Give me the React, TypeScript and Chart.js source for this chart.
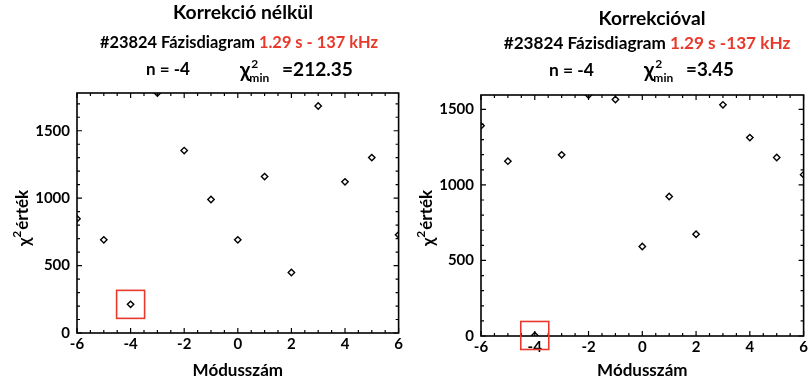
import React, { useEffect, useRef } from "react";
import { Chart, registerables } from "chart.js";

Chart.register(...registerables);

// ---- Data ----
const modes = [-6, -5, -4, -3, -2, -1, 0, 1, 2, 3, 4, 5, 6];
const chiUncorrected = [847, 691, 212.35, 1780, 1353, 990, 691, 1160, 449, 1684, 1121, 1301, 728];
const chiCorrected = [1391, 1157, 3.45, 1199, 1595, 1565, 592, 923, 673, 1530, 1313, 1181, 1068];
const bestMode = -4;
const xTickValues = [-6, -4, -2, 0, 2, 4, 6];
const yTickValues = [0, 500, 1000, 1500];
const yMaxUncorrected = 1780;
const yMaxCorrected = 1595;
const xMajorStep = 2;
const xMinorStep = 0.5;
const yMajorStep = 500;
const yMinorStep = 100;

const titleUncorrected = "Korrekció nélkül";
const titleCorrected = "Korrekcióval";
const shotLabel = "#23824 Fázisdiagram ";
const timeLabelUncorrected = "1.29 s - 137 kHz";
const timeLabelCorrected = "1.29 s -137 kHz";
const nLabel = "n = -4";
const chiMinUncorrected = "=212.35";
const chiMinCorrected = "=3.45";
const xTitle = "Módusszám";
const yTitleChi = "χ";
const yTitleRest = "érték";

const FONT = "Lato, 'Open Sans', sans-serif";
const RED = "#e8392c";

type Panel = {
  width: number;
  padTop: number;
  padRight: number;
  xAxisHeight: number;
  title: string;
  titleX: number;
  titleY: number;
  titleW: number;
  subX: number;
  subW: number;
  timeLabel: string;
  nX: number;
  nW: number;
  chiX: number;
  eqText: string;
  eqX: number;
  eqW: number;
  values: number[];
  yMax: number;
};

function fitSize(ctx: CanvasRenderingContext2D, text: string, target: number) {
  ctx.font = `bold 100px ${FONT}`;
  const w = ctx.measureText(text).width;
  return (100 * target) / w;
}

function drawHeader(ctx: CanvasRenderingContext2D, p: Panel) {
  ctx.save();
  ctx.textBaseline = "middle";
  ctx.fillStyle = "#000";
  // title
  const ts = fitSize(ctx, p.title, p.titleW);
  ctx.font = `bold ${ts}px ${FONT}`;
  ctx.textAlign = "center";
  ctx.fillText(p.title, p.titleX, p.titleY);
  // subtitle
  const ss = fitSize(ctx, shotLabel + p.timeLabel, p.subW);
  ctx.font = `bold ${ss}px ${FONT}`;
  ctx.textAlign = "left";
  const w1 = ctx.measureText(shotLabel).width;
  const w2 = ctx.measureText(p.timeLabel).width;
  const sx = p.subX - (w1 + w2) / 2;
  ctx.fillText(shotLabel, sx, 43);
  ctx.fillStyle = RED;
  ctx.fillText(p.timeLabel, sx + w1, 43);
  // stats line
  ctx.fillStyle = "#000";
  const statY = 70;
  const ns = fitSize(ctx, nLabel, p.nW);
  ctx.font = `bold ${ns}px ${FONT}`;
  ctx.fillText(nLabel, p.nX, statY);
  ctx.font = `bold 21px ${FONT}`;
  ctx.fillText("χ", p.chiX, statY);
  const wc = ctx.measureText("χ").width;
  ctx.font = `bold 12px ${FONT}`;
  ctx.fillText("2", p.chiX + wc + 1, statY - 6);
  ctx.fillText("min", p.chiX + wc - 1, statY + 8);
  const es = fitSize(ctx, p.eqText, p.eqW);
  ctx.font = `bold ${es}px ${FONT}`;
  ctx.fillText(p.eqText, p.eqX, statY);
  // y-axis title (rotated)
  ctx.translate(23, 218);
  ctx.rotate(-Math.PI / 2);
  ctx.font = `bold 17px ${FONT}`;
  const wx = ctx.measureText(yTitleChi).width;
  const wr = ctx.measureText(yTitleRest).width;
  ctx.font = `bold 12px ${FONT}`;
  const w2s = ctx.measureText("2").width;
  const total = wx + w2s + 1 + wr;
  let x = -total / 2;
  ctx.font = `bold 17px ${FONT}`;
  ctx.fillText(yTitleChi, x, 2);
  x += wx;
  ctx.font = `bold 12px ${FONT}`;
  ctx.fillText("2", x, -6);
  x += w2s + 1;
  ctx.font = `bold 17px ${FONT}`;
  ctx.fillText(yTitleRest, x, 0);
  ctx.restore();
}

function isMajor(v: number, step: number) {
  const r = Math.abs(v / step - Math.round(v / step));
  return r < 1e-6;
}

function makeFramePlugin(p: Panel) {
  return {
    id: "frameAndMarks",
    afterDatasetsDraw(chart: any) {
      const { ctx, chartArea: a, scales } = chart;
      const xs = scales.x;
      const ys = scales.y;
      ctx.save();
      ctx.strokeStyle = "#000";
      ctx.lineWidth = 1.6;
      ctx.strokeRect(a.left, a.top, a.right - a.left, a.bottom - a.top);
      ctx.lineWidth = 1.2;
      ctx.beginPath();
      for (let v = xs.min; v <= xs.max + 1e-9; v += xMinorStep) {
        const px = xs.getPixelForValue(v);
        const len = isMajor(v, xMajorStep) ? 5 : 3;
        ctx.moveTo(px, a.bottom);
        ctx.lineTo(px, a.bottom - len);
        ctx.moveTo(px, a.top);
        ctx.lineTo(px, a.top + len);
      }
      for (let v = ys.min; v <= ys.max + 1e-9; v += yMinorStep) {
        const py = ys.getPixelForValue(v);
        const len = isMajor(v, yMajorStep) ? 5 : 3;
        ctx.moveTo(a.left, py);
        ctx.lineTo(a.left + len, py);
        ctx.moveTo(a.right, py);
        ctx.lineTo(a.right - len, py);
      }
      ctx.stroke();
      const idx = modes.indexOf(bestMode);
      const cx = xs.getPixelForValue(bestMode);
      const cy = ys.getPixelForValue(p.values[idx]);
      ctx.strokeStyle = RED;
      ctx.lineWidth = 1.6;
      ctx.strokeRect(cx - 14, cy - 14, 28, 28);
      ctx.restore();
    },
    afterDraw(chart: any) {
      drawHeader(chart.ctx, p);
    },
  };
}

function ChartPanel({ p }: { p: Panel }) {
  const ref = useRef<HTMLCanvasElement | null>(null);
  useEffect(() => {
    if (!ref.current) return;
    const tickFont = { family: FONT, size: 15, weight: "bold" as const };
    const chart = new Chart(ref.current, {
      type: "scatter",
      data: {
        datasets: [
          {
            data: modes.map((m, i) => ({ x: m, y: p.values[i] })),
            pointStyle: "rectRot",
            pointRadius: 3.2,
            pointBorderWidth: 1.4,
            pointBorderColor: "#000",
            pointBackgroundColor: "#fff",
            showLine: false,
            clip: 0,
          } as any,
        ],
      },
      options: {
        responsive: false,
        animation: false,
        events: [],
        layout: { padding: { top: p.padTop, right: p.padRight, left: 0, bottom: 0 } },
        plugins: {
          legend: { display: false },
          tooltip: { enabled: false },
          title: { display: false },
        },
        scales: {
          x: {
            type: "linear",
            min: xTickValues[0],
            max: xTickValues[xTickValues.length - 1],
            afterBuildTicks: (s: any) => {
              s.ticks = xTickValues.map((v) => ({ value: v }));
            },
            ticks: {
              font: tickFont,
              color: "#000",
              padding: 2,
              maxRotation: 0,
              autoSkip: false,
              callback: (v: any) => String(v),
            },
            grid: { display: false, drawTicks: false },
            border: { display: false },
            title: {
              display: true,
              text: xTitle,
              color: "#000",
              font: { family: FONT, size: 17, weight: "bold" },
              padding: { top: 0, bottom: 2 },
            },
            afterFit: (s: any) => {
              s.height = p.xAxisHeight;
              s.paddingLeft = 0;
              s.paddingRight = 0;
            },
          },
          y: {
            type: "linear",
            min: 0,
            max: p.yMax,
            afterBuildTicks: (s: any) => {
              s.ticks = yTickValues.map((v) => ({ value: v }));
            },
            ticks: {
              font: tickFont,
              color: "#000",
              padding: 7,
              autoSkip: false,
              callback: (v: any) => String(v),
            },
            grid: { display: false, drawTicks: false },
            border: { display: false },
            title: { display: false },
            afterFit: (s: any) => {
              s.width = 77;
              s.paddingTop = 0;
              s.paddingBottom = 0;
            },
          },
        },
      } as any,
      plugins: [makeFramePlugin(p)],
    });
    return () => chart.destroy();
  }, [p]);
  return <canvas ref={ref} width={p.width} height={383} style={{ display: "block" }} />;
}

const leftPanel: Panel = {
  width: 404,
  padTop: 93,
  padRight: 1,
  xAxisHeight: 50,
  title: titleUncorrected,
  titleX: 243,
  titleY: 13,
  titleW: 140,
  subX: 239,
  subW: 278,
  timeLabel: timeLabelUncorrected,
  nX: 146,
  nW: 44,
  chiX: 240,
  eqText: chiMinUncorrected,
  eqX: 282,
  eqW: 71,
  values: chiUncorrected,
  yMax: yMaxUncorrected,
};

const rightPanel: Panel = {
  width: 405,
  padTop: 95,
  padRight: 2,
  xAxisHeight: 47,
  title: titleCorrected,
  titleX: 248,
  titleY: 19,
  titleW: 107,
  subX: 243,
  subW: 287,
  timeLabel: timeLabelCorrected,
  nX: 145,
  nW: 45,
  chiX: 240,
  eqText: chiMinCorrected,
  eqX: 282,
  eqW: 48,
  values: chiCorrected,
  yMax: yMaxCorrected,
};

export default function App() {
  return (
    <div
      style={{
        position: "absolute",
        left: 0,
        top: 0,
        width: 809,
        height: 383,
        display: "flex",
        background: "#fff",
      }}
    >
      <ChartPanel p={leftPanel} />
      <ChartPanel p={rightPanel} />
    </div>
  );
}
